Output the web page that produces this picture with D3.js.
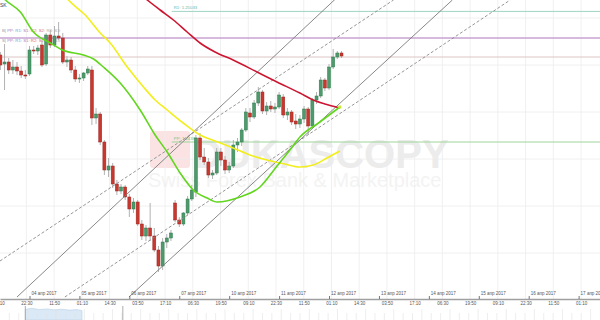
<!DOCTYPE html>
<html>
<head>
<meta charset="utf-8">
<script src="https://cdn.jsdelivr.net/npm/d3@7"></script>
<style>
  html, body { margin: 0; padding: 0; background: #fff; overflow: hidden; }
  svg { display: block; font-family: "Liberation Sans", Arial, sans-serif; }
</style>
</head>
<body>
<div id="container"></div>
<script>
(function(){
  "use strict";

  // hours counted from 04 apr 2017 00:00, weekend removed; one candle every 2h
  var candleStart = -14;
  var candleStep = 2;
  // open, high, low, close
  var ohlc = [
    [1.24815,1.24830,1.24740,1.24765],[1.24770,1.24870,1.24640,1.24780],[1.24780,1.24800,1.24720,1.24740],
    [1.24740,1.24790,1.24720,1.24755],[1.24755,1.24780,1.24715,1.24735],[1.24735,1.24760,1.24700,1.24715],
    [1.24715,1.24740,1.24695,1.24710],[1.24720,1.24860,1.24710,1.24840],[1.24840,1.24860,1.24820,1.24835],
    [1.24835,1.24865,1.24815,1.24850],[1.24865,1.24890,1.24755,1.24765],[1.24770,1.24925,1.24760,1.24915],
    [1.24915,1.24940,1.24850,1.24865],[1.24865,1.24960,1.24855,1.24910],[1.24910,1.24980,1.24890,1.24900],
    [1.24900,1.24925,1.24770,1.24780],[1.24780,1.24810,1.24755,1.24790],[1.24790,1.24805,1.24725,1.24740],
    [1.24740,1.24760,1.24680,1.24695],[1.24695,1.24720,1.24675,1.24700],[1.24700,1.24730,1.24685,1.24725],
    [1.24725,1.24760,1.24715,1.24745],[1.24740,1.24760,1.24465,1.24500],[1.24500,1.24550,1.24470,1.24520],
    [1.24520,1.24530,1.24365,1.24380],[1.24380,1.24390,1.24215,1.24240],[1.24240,1.24300,1.24205,1.24260],
    [1.24260,1.24275,1.24150,1.24170],[1.24170,1.24190,1.24115,1.24135],[1.24135,1.24170,1.24120,1.24155],
    [1.24155,1.24165,1.24090,1.24105],[1.24105,1.24120,1.24005,1.24045],[1.24045,1.24100,1.24025,1.24080],
    [1.24080,1.24090,1.23960,1.23970],[1.23970,1.23990,1.23890,1.23910],[1.23910,1.23965,1.23885,1.23950],
    [1.23950,1.24075,1.23885,1.23910],[1.23910,1.23950,1.23830,1.23840],[1.23840,1.23860,1.23730,1.23760],
    [1.23760,1.23900,1.23740,1.23880],[1.23880,1.23920,1.23850,1.23900],[1.23900,1.23940,1.23885,1.23925],
    [1.24075,1.24090,1.23980,1.23990],[1.23990,1.24005,1.23955,1.23970],[1.23970,1.24030,1.23960,1.24025],
    [1.24025,1.24110,1.24015,1.24095],[1.24095,1.24165,1.24085,1.24140],[1.24130,1.24415,1.24105,1.24400],
    [1.24400,1.24425,1.24290,1.24305],[1.24305,1.24350,1.24265,1.24280],[1.24280,1.24300,1.24200,1.24215],
    [1.24215,1.24240,1.24195,1.24225],[1.24225,1.24350,1.24215,1.24330],[1.24330,1.24350,1.24260,1.24290],
    [1.24290,1.24310,1.24220,1.24240],[1.24240,1.24280,1.24225,1.24260],[1.24260,1.24390,1.24250,1.24365],
    [1.24365,1.24400,1.24330,1.24380],[1.24380,1.24450,1.24360,1.24440],[1.24440,1.24550,1.24430,1.24530],
    [1.24525,1.24550,1.24480,1.24505],[1.24505,1.24590,1.24495,1.24575],[1.24575,1.24655,1.24560,1.24630],
    [1.24630,1.24640,1.24520,1.24535],[1.24535,1.24580,1.24515,1.24560],[1.24560,1.24585,1.24530,1.24545],
    [1.24545,1.24575,1.24525,1.24555],[1.24555,1.24630,1.24545,1.24615],[1.24605,1.24620,1.24500,1.24515],
    [1.24515,1.24550,1.24490,1.24530],[1.24530,1.24540,1.24465,1.24480],[1.24485,1.24520,1.24445,1.24470],
    [1.24470,1.24515,1.24450,1.24495],[1.24495,1.24560,1.24475,1.24545],[1.24545,1.24555,1.24415,1.24460],
    [1.24460,1.24600,1.24450,1.24590],[1.24590,1.24630,1.24570,1.24610],[1.24610,1.24705,1.24600,1.24690],
    [1.24690,1.24700,1.24635,1.24650],[1.24650,1.24770,1.24640,1.24755],[1.24755,1.24845,1.24745,1.24805],
    [1.24805,1.24835,1.24795,1.24825],[1.24825,1.24835,1.24800,1.24810]
  ];

  // moving averages, [hour, price]
  var maGreen = [[-14,1.25115],[-11.6,1.25090],[-4.4,1.25030],[1.9,1.24930],[10,1.24875],[15.8,1.24840],
    [25.9,1.24815],[30.8,1.24795],[35.5,1.24755],[43.6,1.24675],[53.2,1.24540],[60.4,1.24415],
    [66.2,1.24330],[72.4,1.24225],[78.7,1.24140],[85.4,1.24100],[90.2,1.24080],[101.2,1.24105],
    [110.8,1.24155],[119,1.24260],[125.2,1.24340],[130,1.24405],[139.6,1.24480],[149.2,1.24555]];
  var maYellow = [[14.8,1.25140],[18.7,1.25090],[26.8,1.25015],[34,1.24925],[38.8,1.24875],[47,1.24755],
    [54.8,1.24655],[60.4,1.24590],[66.2,1.24540],[73.9,1.24475],[82,1.24415],[89.2,1.24385],
    [97.9,1.24350],[106,1.24315],[114.2,1.24290],[122.8,1.24270],[130,1.24255],[136.4,1.24265],
    [143,1.24300],[149.2,1.24335]];
  var maRed = [[50.8,1.25140],[56.6,1.25090],[62.8,1.25040],[69.2,1.24990],[75.8,1.24930],[82,1.24875],
    [89.2,1.24830],[97.9,1.24790],[109.4,1.24730],[119,1.24680],[130,1.24625],[136.4,1.24590],
    [142,1.24570],[149.2,1.24550]];

  // channel lines, two points each [hour, price]
  var channelSolid = [
    [[-6,1.23605],[148.1,1.25105]],
    [[47.8,1.23605],[203.3,1.25090]]
  ];
  var channelDashed = [
    [[-14.2,1.23785],[175,1.25090]],
    [[17,1.23605],[231.1,1.25090]]
  ];

  // pivot levels
  var levelNames = ["R1", "", "", "PP"];
  var levelValues = [1.25033, 1.24900, 1.24805, 1.24380];
  var levelStarts = [68.4, -14.2, -14.2, 68.4];

  var gridPrices = [1.25000, 1.24765, 1.24530, 1.24295, 1.24060, 1.23825];

  var timeTickHours = [-14.83,-1.5,11.83,25.17,38.5,51.83,65.17,78.5,91.83,105.17,118.5,131.83,
    145.17,158.5,171.83,185.17,198.5,211.83,225.17,238.5,251.83,265.17];
  var timeTickLabels = ["09:10","22:30","11:50","01:10","14:30","03:50","17:10","06:30","19:50","09:10",
    "22:30","11:50","01:10","14:30","03:50","17:10","06:30","19:50","09:10","22:30","11:50","01:10"];
  var dateTickHours = [0,24,48,72,96,120,144,168,192,216,240,264];
  var dateTickLabels = ["04 апр 2017","05 апр 2017","06 апр 2017","07 апр 2017","10 апр 2017",
    "11 апр 2017","12 апр 2017","13 апр 2017","14 апр 2017","15 апр 2017","16 апр 2017","17 апр 2017"];

  var pivotRowParts = ["B|", "PP:", "R1:", "S1:", "R2:", "S2:", "R3:", "S3:"];

  // navigator strip at the bottom
  var navSeries = [[2.7,0.82],[3.4,0.9],[4.2,0.8],[5,0.85],[5.8,0.78],[6.6,0.83],[7.4,0.76],[8.2,0.8],[8.75,0.72]];
  var navHandles = [2.7, 13.1];

  var width = 600, height = 320, plotH = 297, axisY = 299;

  var svg = d3.select("#container").append("svg")
      .attr("width", width)
      .attr("height", height);

  var x = d3.scaleLinear().domain([-14.183, 274.279]).range([0, width]);
  var y = d3.scaleLinear().domain([1.25090, 1.23605]).range([0, plotH]);

  svg.append("defs").append("clipPath").attr("id", "plot")
    .append("rect").attr("width", width).attr("height", plotH + 1);

  // watermark
  var wm = svg.append("g");
  wm.append("rect")
      .attr("x", 150).attr("y", 131).attr("width", 40).attr("height", 37).attr("rx", 3)
      .attr("fill", "#fbe3e3");
  wm.append("text")
      .attr("x", 193).attr("y", 168)
      .attr("font-size", 40).attr("font-weight", "bold")
      .attr("fill", "#ececec")
      .text("DUKASCOPY");
  wm.append("text")
      .attr("x", 148).attr("y", 187)
      .attr("font-size", 20)
      .attr("fill", "#f3f3f3")
      .text("Swiss Forex Bank & Marketplace");

  // grid
  var grid = svg.append("g").attr("stroke", "#ececec").attr("stroke-width", 0.8);
  grid.selectAll("line.v").data(timeTickHours).enter().append("line")
      .attr("x1", function(d){ return x(d); }).attr("x2", function(d){ return x(d); })
      .attr("y1", 0).attr("y2", axisY);
  grid.selectAll("line.h").data(gridPrices).enter().append("line")
      .attr("x1", 0).attr("x2", width)
      .attr("y1", function(d){ return y(d); }).attr("y2", function(d){ return y(d); });

  var plot = svg.append("g").attr("clip-path", "url(#plot)");

  // pivot lines
  var levelColors = ["#9fd3c4", "#c9a3d3", "#dcc4c4", "#9fd49a"];
  var levelWidths = [1, 1.6, 1, 1];
  plot.selectAll("line.level").data(levelValues).enter().append("line")
      .attr("x1", function(d, i){ return x(levelStarts[i]); })
      .attr("x2", width)
      .attr("y1", function(d){ return y(d); }).attr("y2", function(d){ return y(d); })
      .attr("stroke", function(d, i){ return levelColors[i]; })
      .attr("stroke-width", function(d, i){ return levelWidths[i]; });
  levelValues.forEach(function(v, i){
    if (!levelNames[i]) return;
    plot.append("text")
        .attr("x", x(levelStarts[i]) + 2).attr("y", y(v) - 2)
        .attr("font-size", 4.3)
        .attr("fill", i === 0 ? "#6fb3a3" : "#7cbf76")
        .text(levelNames[i] + ": " + v.toFixed(5));
  });

  // pivot legend rows
  var partColors = ["#999", "#b07cc0", "#7b9cc8", "#b07cc0", "#cc6b86", "#cc6b86", "#aaa", "#aaa"];
  [32, 41.5].forEach(function(yy, r){
    var t = plot.append("text").attr("x", 2).attr("y", yy).attr("font-size", 4.3);
    pivotRowParts.forEach(function(p, i){
      t.append("tspan").attr("fill", partColors[i])
        .text((r === 1 && i === 0 ? "S|" : p) + " ");
    });
  });

  // candles
  var bodyW = 3;
  var candles = plot.append("g").selectAll("g").data(ohlc).enter().append("g");
  candles.append("line")
      .attr("x1", function(d, i){ return x(candleStart + candleStep * i); })
      .attr("x2", function(d, i){ return x(candleStart + candleStep * i); })
      .attr("y1", function(d){ return y(d[1]); })
      .attr("y2", function(d){ return y(d[2]); })
      .attr("stroke", "#a9a9a9").attr("stroke-width", 0.9);
  candles.append("rect")
      .attr("x", function(d, i){ return x(candleStart + candleStep * i) - bodyW / 2; })
      .attr("width", bodyW)
      .attr("y", function(d){ return y(Math.max(d[0], d[3])); })
      .attr("height", function(d){ return Math.max(1, Math.abs(y(d[0]) - y(d[3]))); })
      .attr("fill", function(d){ return d[3] >= d[0] ? "#4e9a6c" : "#c8382f"; })
      .attr("stroke", function(d){ return d[3] >= d[0] ? "#2f7a4d" : "#9c2420"; })
      .attr("stroke-width", 0.5);

  // channels
  var seg = d3.line().x(function(d){ return x(d[0]); }).y(function(d){ return y(d[1]); });
  plot.selectAll("path.solid").data(channelSolid).enter().append("path")
      .attr("d", seg).attr("fill", "none")
      .attr("stroke", "#7a7a7a").attr("stroke-width", 0.9);
  plot.selectAll("path.dashed").data(channelDashed).enter().append("path")
      .attr("d", seg).attr("fill", "none")
      .attr("stroke", "#8a8a8a").attr("stroke-width", 0.9)
      .attr("stroke-dasharray", "3,2");

  // moving averages
  var ma = d3.line().curve(d3.curveMonotoneX)
      .x(function(d){ return x(d[0]); }).y(function(d){ return y(d[1]); });
  plot.append("path").datum(maYellow).attr("d", ma).attr("fill", "none")
      .attr("stroke", "#f2ee1e").attr("stroke-width", 1.6);
  plot.append("path").datum(maRed).attr("d", ma).attr("fill", "none")
      .attr("stroke", "#cc1530").attr("stroke-width", 1.6);
  plot.append("path").datum(maGreen).attr("d", ma).attr("fill", "none")
      .attr("stroke", "#62d61e").attr("stroke-width", 1.6);
  var last = maGreen[maGreen.length - 1];
  plot.append("rect")
      .attr("x", x(last[0]) - 1.5).attr("y", y(last[1]) - 1.5)
      .attr("width", 3).attr("height", 3)
      .attr("fill", "#c9e83a");

  plot.append("text").attr("x", 0).attr("y", 7).attr("font-size", 5).attr("fill", "#444").text("SK");

  // time axis: labels under the line
  var timeAxis = d3.axisBottom(x)
      .tickValues(timeTickHours)
      .tickFormat(function(d, i){ return timeTickLabels[i]; })
      .tickSize(0).tickPadding(3);
  var tg = svg.append("g").attr("transform", "translate(0," + axisY + ")").call(timeAxis);
  tg.select(".domain").attr("stroke", "#a0a0a0").attr("stroke-width", 1.4);
  tg.selectAll("text").attr("font-size", 4.5).attr("fill", "#555").attr("font-family", "Liberation Sans, Arial, sans-serif");

  // date axis: labels above the line
  var dateAxis = d3.axisTop(x)
      .tickValues(dateTickHours)
      .tickFormat(function(d, i){ return dateTickLabels[i]; })
      .tickSize(3).tickPadding(1);
  var dg = svg.append("g").attr("transform", "translate(0," + axisY + ")").call(dateAxis);
  dg.select(".domain").remove();
  dg.selectAll("line").attr("stroke", "#555").attr("stroke-width", 0.8);
  dg.selectAll("text").attr("font-size", 4.5).attr("fill", "#555")
      .attr("text-anchor", "start").attr("dx", 1.5)
      .attr("font-family", "Liberation Sans, Arial, sans-serif");

  // navigator
  var navX = d3.scaleLinear().domain([0, 64]).range([0, width]);
  var navY = d3.scaleLinear().domain([0, 1]).range([320, 307]);
  svg.append("path").datum(navSeries)
      .attr("d", d3.area().x(function(d){ return navX(d[0]); }).y0(navY(0)).y1(function(d){ return navY(d[1]); }))
      .attr("fill", "#dbe8f5").attr("stroke", "#b9d0e8").attr("stroke-width", 0.6);
  svg.append("g").selectAll("line").data(d3.range(1, 64)).enter().append("line")
      .attr("x1", function(d){ return navX(d); }).attr("x2", function(d){ return navX(d); })
      .attr("y1", function(d){ return d % 3 === 0 ? 309 : 313; }).attr("y2", 320)
      .attr("stroke", "#e2e2e2").attr("stroke-width", 0.6);
  svg.append("g").selectAll("line").data(navHandles).enter().append("line")
      .attr("x1", function(d){ return navX(d); }).attr("x2", function(d){ return navX(d); })
      .attr("y1", 306).attr("y2", 320)
      .attr("stroke", "#999").attr("stroke-width", 0.8);
})();
</script>
</body>
</html>
